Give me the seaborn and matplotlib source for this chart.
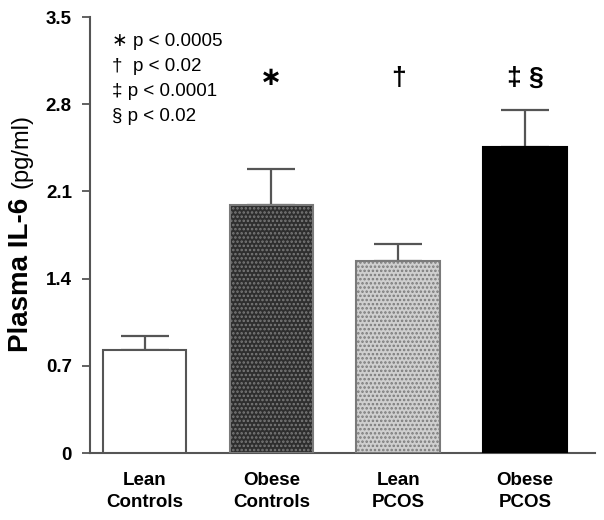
import pandas as pd
import seaborn as sns
import matplotlib.pyplot as plt

groups = ["Lean\nControls", "Obese\nControls", "Lean\nPCOS", "Obese\nPCOS"]
il6_means = [0.83, 1.99, 1.54, 2.46]
il6_sem = [0.11, 0.29, 0.14, 0.29]
bar_colors = ["white", "#2e2e2e", "#cfcfcf", "black"]
bar_hatches = ["", "....", "....", ""]
hatch_edges = ["#555555", "#7a7a7a", "#7a7a7a", "black"]
sig_marks = ["", "\u2217", "\u2020", "\u2021 \u00a7"]
yticks = [0, 0.7, 1.4, 2.1, 2.8, 3.5]
yticklabels = ["0", "0.7", "1.4", "2.1", "2.8", "3.5"]
legend_lines = ["\u2217 p < 0.0005", "\u2020  p < 0.02", "\u2021 p < 0.0001", "\u00a7 p < 0.02"]

sns.set_style("white")
plt.rcParams["font.family"] = ["Liberation Sans", "DejaVu Sans"]
plt.rcParams["hatch.linewidth"] = 1.2
plt.rcParams["text.color"] = "black"

df = pd.DataFrame({"group": groups, "il6": il6_means})

fig = plt.figure(figsize=(6.04, 5.2), dpi=100)
ax = fig.add_axes([90 / 604, 1 - 453 / 520, 505 / 604, 436 / 520])

sns.barplot(data=df, x="group", y="il6", ax=ax, width=0.66, color="white",
            edgecolor="#555555", linewidth=1.5, errorbar=None)

for patch, fc, h, ec in zip(ax.patches, bar_colors, bar_hatches, hatch_edges):
    patch.set_facecolor(fc)
    patch.set_hatch(h)
    patch.set_edgecolor(ec)
    patch.set_zorder(3)

xs = range(len(groups))
ax.errorbar(xs, il6_means, yerr=[[0] * 4, il6_sem], fmt="none", ecolor="#555555",
            elinewidth=1.6, capsize=17, capthick=1.6, zorder=2)

for x, m in zip(xs, sig_marks):
    if m:
        ax.text(x, 3.01, m, ha="center", va="center", fontsize=19, color="black",
                fontweight="bold")

for i, line in enumerate(legend_lines):
    ax.text(0.044, 0.943 - i * 0.0573, line, transform=ax.transAxes,
            fontsize=13.5, va="center", ha="left", color="black")

ax.set_xlim(-0.43, 3.55)
ax.set_ylim(0, 3.5)
ax.set_yticks(yticks)
ax.set_yticklabels(yticklabels, fontsize=13.5, fontweight="bold", color="black")
ax.tick_params(axis="y", direction="out", length=6, width=1.3, color="#555555", left=True, pad=7)
ax.tick_params(axis="x", length=0, pad=14)
for lbl in ax.get_xticklabels():
    lbl.set_fontsize(13.5)
    lbl.set_fontweight("bold")
    lbl.set_color("black")
    lbl.set_linespacing(1.35)
ax.set_xlabel("")
ax.set_ylabel("")

sns.despine(ax=ax)
for side in ["left", "bottom"]:
    ax.spines[side].set_color("#555555")
    ax.spines[side].set_linewidth(1.5)

fig.text(28 / 604, 1 - 352 / 520, "Plasma IL-6", rotation=90, rotation_mode="anchor",
         ha="left", va="baseline", fontsize=20, fontweight="bold", color="black")
fig.text(28 / 604, 1 - 188 / 520, "(pg/ml)", rotation=90, rotation_mode="anchor",
         ha="left", va="baseline", fontsize=17, color="black")

fig.savefig("out.png", dpi=100, facecolor="white")
